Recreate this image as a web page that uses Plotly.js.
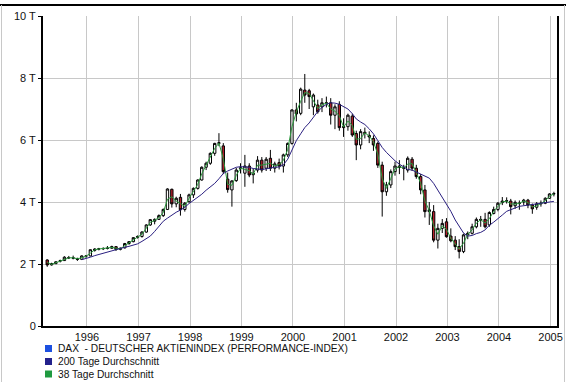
<!DOCTYPE html>
<html>
<head>
<meta charset="utf-8">
<script src="https://cdn.plot.ly/plotly-3.0.1.min.js"></script>
<style>
html,body{margin:0;padding:0;background:#fff;}
#chart{width:566px;height:382px;}
</style>
</head>
<body>
<div id="chart"></div>
<script>
// Monthly candles, March 1995 - January 2005 (index points)
var months = [
"1995-03","1995-04","1995-05","1995-06","1995-07","1995-08","1995-09","1995-10","1995-11","1995-12",
"1996-01","1996-02","1996-03","1996-04","1996-05","1996-06","1996-07","1996-08","1996-09","1996-10","1996-11","1996-12",
"1997-01","1997-02","1997-03","1997-04","1997-05","1997-06","1997-07","1997-08","1997-09","1997-10","1997-11","1997-12",
"1998-01","1998-02","1998-03","1998-04","1998-05","1998-06","1998-07","1998-08","1998-09","1998-10","1998-11","1998-12",
"1999-01","1999-02","1999-03","1999-04","1999-05","1999-06","1999-07","1999-08","1999-09","1999-10","1999-11","1999-12",
"2000-01","2000-02","2000-03","2000-04","2000-05","2000-06","2000-07","2000-08","2000-09","2000-10","2000-11","2000-12",
"2001-01","2001-02","2001-03","2001-04","2001-05","2001-06","2001-07","2001-08","2001-09","2001-10","2001-11","2001-12",
"2002-01","2002-02","2002-03","2002-04","2002-05","2002-06","2002-07","2002-08","2002-09","2002-10","2002-11","2002-12",
"2003-01","2003-02","2003-03","2003-04","2003-05","2003-06","2003-07","2003-08","2003-09","2003-10","2003-11","2003-12",
"2004-01","2004-02","2004-03","2004-04","2004-05","2004-06","2004-07","2004-08","2004-09","2004-10","2004-11","2004-12",
"2005-01"];

var openV = [
2130,1970,2010,2090,2110,2210,2200,2180,2150,2250,
2260,2440,2480,2490,2500,2510,2560,2470,2520,2660,2720,2860,
2889,3030,3260,3380,3440,3560,3760,4410,3940,4150,3760,4010,
4230,4440,4710,5120,5250,5570,5890,5810,4740,4390,4690,5080,
4930,5160,4880,5030,5350,5090,5410,5090,5270,5160,5520,5890,
6970,6860,7610,7590,7070,7130,7070,7200,7200,6800,7150,6400,
6430,6770,6210,5840,6250,6150,6050,5890,5190,4330,4550,4980,
5160,5120,5030,5380,5090,4820,4390,3690,3690,2770,3150,3360,
2900,2770,2560,2400,2940,2990,3200,3440,3440,3260,3630,3760,
3980,4030,4030,3880,3950,4000,4060,3900,3830,3940,3960,4120,
4260];
var highV = [
2150,2040,2090,2140,2250,2260,2270,2200,2280,2290,
2470,2510,2520,2540,2580,2590,2580,2530,2680,2740,2860,2920,
3060,3280,3450,3470,3600,3790,4440,4430,4170,4260,4000,4270,
4470,4730,5150,5300,5600,5910,6220,5900,4950,4700,5100,5250,
5520,5250,5080,5480,5450,5450,5680,5300,5400,5560,5920,6990,
7200,7690,8130,7650,7500,7300,7350,7400,7350,7150,7250,6700,
6850,6850,6300,6350,6400,6280,6150,5950,5300,4650,5050,5300,
5350,5200,5470,5450,5200,4900,4550,4000,3900,3300,3450,3480,
3150,2900,2800,2980,3050,3300,3500,3550,3650,3700,3850,4000,
4160,4150,4100,4050,4050,4100,4100,3950,4000,4050,4150,4280,
4330];
var lowV = [
1910,1950,2000,2050,2100,2160,2150,2100,2140,2200,
2250,2400,2440,2450,2470,2490,2420,2440,2500,2620,2700,2820,
2850,3010,3230,3280,3420,3520,3740,3820,3830,3560,3690,3980,
4130,4400,4690,5030,5200,5490,5800,4900,4300,3850,4650,4920,
4490,4800,4600,4950,4950,5000,5000,4950,5050,4950,5450,5850,
6600,6800,7200,7000,6800,6850,6900,7050,6500,6350,6300,6100,
6300,6100,5350,5700,6050,5900,5650,5100,3530,4200,4450,4850,
4900,4700,4950,5000,4750,4250,3500,3260,2700,2500,3000,2850,
2700,2450,2180,2350,2800,2950,3150,3200,3150,3200,3600,3700,
3900,3950,3600,3780,3750,3890,3800,3620,3750,3850,3930,4100,
4180];
var closeV = [
1970,2010,2070,2110,2220,2200,2190,2150,2260,2254,
2460,2480,2490,2500,2510,2560,2470,2510,2660,2720,2850,2889,
3030,3260,3430,3440,3560,3760,4420,3940,4120,3750,3960,4230,
4440,4710,5120,5250,5570,5890,5910,4980,4400,4680,5030,5100,
5160,4870,4930,5350,5030,5380,5090,5230,5160,5520,5890,6970,
6840,7640,7450,7400,7450,6910,7200,7190,6800,7070,6400,6430,
6800,6160,5840,6270,6210,6100,5840,5190,4330,4550,4980,5160,
5120,5090,5410,5090,4820,4390,3690,3750,2770,3150,3310,2880,
2750,2560,2400,2940,2990,3200,3440,3420,3200,3660,3760,3960,
4030,4040,3850,3990,3960,4060,3900,3780,3940,3960,4120,4260,
4270];

// 38 Tage Durchschnitt (same months)
var ma38 = [
2050,1990,2040,2100,2160,2200,2200,2170,2200,2250,
2350,2460,2485,2495,2505,2535,2510,2490,2590,2690,2780,2870,
2960,3150,3340,3410,3500,3660,4090,4170,4030,3950,3860,4120,
4340,4570,4910,5190,5410,5730,5900,5400,4570,4540,4860,5090,
5050,5010,4900,5190,5190,5230,5250,5160,5210,5340,5700,6430,
6900,7250,7530,7500,7260,7020,7130,7190,7000,6930,6780,6420,
6610,6470,6020,6050,6230,6130,5950,5540,4760,4440,4760,5070,
5140,5100,5220,5240,4960,4600,4040,3720,3230,2960,3230,3120,
2830,2660,2480,2670,2960,3100,3320,3430,3320,3460,3700,3860,
4000,4030,3940,3930,3960,4030,3980,3840,3880,3950,4040,4190,
4260];

// 200 Tage Durchschnitt, November 1995 - January 2005
var maMonths = ["1995-11","1995-12"].concat(months.slice(10));
var ma200 = [
2140,2170,
2220,2270,2310,2350,2390,2430,2460,2500,2540,2570,2610,2650,
2730,2820,2900,3050,3220,3380,3480,3580,3670,3740,3830,3950,
4050,4150,4250,4380,4480,4600,4750,4920,5000,5060,5120,5140,
5140,5120,5080,5070,5050,5070,5100,5120,5130,5200,5380,5650,
5980,6200,6400,6550,6750,6920,7050,7150,7200,7190,7150,7080,
7000,6850,6680,6580,6500,6360,6200,5980,5760,5600,5450,5330,
5220,5120,5050,5030,4970,4900,4850,4770,4600,4380,4180,3950,
3700,3420,3200,3000,2900,2920,2980,3020,3100,3250,3350,3450,
3580,3700,3750,3820,3860,3880,3900,3920,3940,3960,3980,4000,
4020];

var yearTicks = ["1996","1997","1998","1999","2000","2001","2002","2003","2004","2005"];
var yTickVals = [0,2000,4000,6000,8000,10000];
var yTickText = ["0","2 T","4 T","6 T","8 T","10 T"];

var legendNames = ["DAX  - DEUTSCHER AKTIENINDEX (PERFORMANCE-INDEX)","200 Tage Durchschnitt","38 Tage Durchschnitt"];
var legendColors = ["#1c50e0","#23218c","#1f9a40"];

function toDate(m){ return m + "-25"; }
var candleDates = months.map(toDate);
var maDates = maMonths.map(toDate);

var traces = [
  {type:"scatter", mode:"lines", x:candleDates, y:ma38, line:{color:"#2a9a3c", width:1}, hoverinfo:"skip", showlegend:false},
  {type:"candlestick", x:candleDates, open:openV, high:highV, low:lowV, close:closeV,
   increasing:{line:{color:"#000000", width:1}, fillcolor:"#ffffff"},
   decreasing:{line:{color:"#000000", width:1}, fillcolor:"#b4202c"},
   whiskerwidth:0, showlegend:false},
  {type:"scatter", mode:"lines", x:maDates, y:ma200, line:{color:"#2a1f80", width:1}, hoverinfo:"skip", showlegend:false}
];

// plot area in pixels: left 43, right 557, top 16, bottom 326
var L=43, R=557, T=16, B=326, W=R-L, H=B-T;
function px(x){ return (x-L)/W; }
function py(y){ return (B-y)/H; }

var shapes = [
  {type:"line", xref:"paper", yref:"paper", x0:px(0), x1:px(566), y0:py(5), y1:py(5), line:{color:"#000", width:2}},
  {type:"line", xref:"paper", yref:"paper", x0:px(1.5), x1:px(1.5), y0:py(5), y1:py(382), line:{color:"#c8c8c8", width:1}},
  {type:"line", xref:"paper", yref:"paper", x0:px(564.5), x1:px(564.5), y0:py(5), y1:py(382), line:{color:"#c8c8c8", width:1}}
];
var annotations = [];
var rowsY = [348.5, 361.5, 374];
for (var i=0;i<legendNames.length;i++){
  shapes.push({type:"rect", xref:"paper", yref:"paper", x0:px(45), x1:px(52), y0:py(rowsY[i]-3.5), y1:py(rowsY[i]+3.5),
    fillcolor:legendColors[i], line:{width:0}});
  annotations.push({xref:"paper", yref:"paper", x:px(56), y:py(rowsY[i]), xanchor:"left", yanchor:"middle",
    text:legendNames[i], showarrow:false, font:{family:"Liberation Sans, Arial, sans-serif", size:10.2, color:"#111"}});
}

var layout = {
  width:566, height:382,
  margin:{l:L, r:566-R, t:T, b:382-B, pad:0},
  paper_bgcolor:"#ffffff", plot_bgcolor:"#ffffff",
  showlegend:false,
  boxgap:0.15,
  font:{family:"Liberation Sans, Arial, sans-serif", size:11, color:"#111"},
  xaxis:{type:"date", range:["1995-02-23","2005-02-16"], rangeslider:{visible:false},
    tickvals:yearTicks.map(function(y){return y+"-01-01";}), ticktext:yearTicks,
    showgrid:true, gridcolor:"#c8c8c8", gridwidth:1, showline:true, linecolor:"#000", linewidth:2,
    ticks:"", zeroline:false, tickfont:{size:11}},
  yaxis:{range:[0,10000], tickvals:yTickVals, ticktext:yTickText,
    showgrid:true, gridcolor:"#c8c8c8", gridwidth:1, showline:true, linecolor:"#000", linewidth:2, mirror:true,
    ticks:"outside", ticklen:3, tickcolor:"#000", zeroline:false, tickfont:{size:11}},
  shapes:shapes, annotations:annotations
};

Plotly.newPlot("chart", traces, layout, {staticPlot:true, displayModeBar:false});
</script>
</body>
</html>
